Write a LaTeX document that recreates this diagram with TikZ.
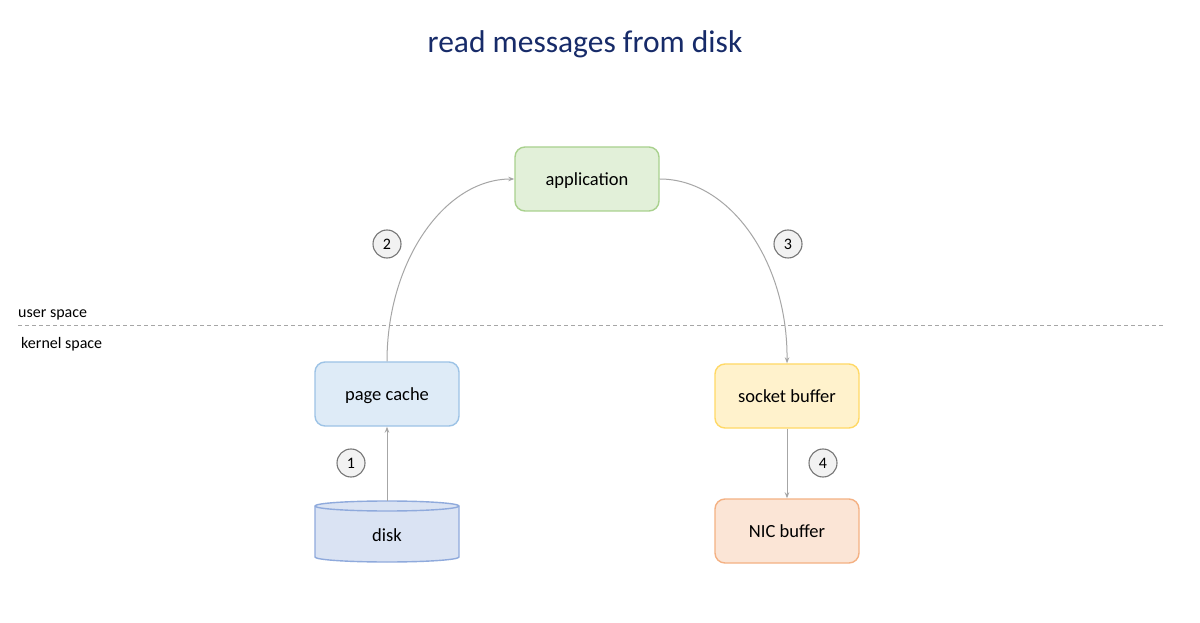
\documentclass[tikz,border=0pt]{standalone}
\usepackage{fontspec}
\setmainfont{Carlito}
\usetikzlibrary{arrows.meta}
\definecolor{titleblue}{HTML}{172B69}
\definecolor{appfill}{HTML}{E2F0D9}
\definecolor{appline}{HTML}{A9D18E}
\definecolor{pcfill}{HTML}{DEEBF7}
\definecolor{pcline}{HTML}{9DC3E6}
\definecolor{sbfill}{HTML}{FFF2CC}
\definecolor{sbline}{HTML}{FFD966}
\definecolor{nicfill}{HTML}{FBE5D6}
\definecolor{nicline}{HTML}{F4B183}
\definecolor{diskfill}{HTML}{DAE3F3}
\definecolor{diskline}{HTML}{8FAADC}
\definecolor{arrowgray}{HTML}{A6A6A6}
\definecolor{circfill}{HTML}{F2F2F2}
\definecolor{circline}{HTML}{767676}
\tikzset{
  box/.style={rectangle, rounded corners=10pt, line width=1.4pt, minimum width=144pt, minimum height=64pt, inner sep=0pt, text depth=0pt, font=\fontsize{18.5}{20}\selectfont},
  stepnum/.style={circle, draw=circline, fill=circfill, line width=1.1pt, minimum size=28pt, inner sep=0pt, font=\fontsize{16}{17}\selectfont},
  conn/.style={draw=arrowgray, line width=1pt, -{Stealth[length=6pt,width=4.5pt]}},
  sidelabel/.style={anchor=west, inner sep=0pt, font=\fontsize{16}{18}\selectfont}
}
\begin{document}
\begin{tikzpicture}[x=1pt,y=1pt]
\useasboundingbox (0,0) rectangle (1200,622);
\fill[white] (0,0) rectangle (1200,622);

\node (title) at (585,578) [font=\fontsize{31.5}{34}\selectfont, text=titleblue] {read messages from disk};

% divider
\coordinate (divL) at (18,296);
\coordinate (divR) at (1165,296);
\draw[arrowgray, line width=1pt, dash pattern=on 4pt off 3pt] (divL) -- (divR);
\node (user) [sidelabel] at (18,307) {user space};
\node (kernel) [sidelabel] at (21,278) {kernel space};

% boxes
\node (app) [box, draw=appline, fill=appfill] at (587,443) {application};
\node (page) [box, draw=pcline, fill=pcfill] at (387,228) {page cache};
\node (sock) [box, draw=sbline, fill=sbfill] at (787,226) {socket buffer};
\node (nic) [box, draw=nicline, fill=nicfill] at (787,91) {NIC buffer};

% disk cylinder
\filldraw[draw=diskline, fill=diskfill, line width=1.4pt]
  (315,116) -- (315,65) arc[start angle=180, end angle=360, x radius=72, y radius=5]
  -- (459,116) arc[start angle=0, end angle=180, x radius=72, y radius=5] -- cycle;
\draw[diskline, line width=1.4pt] (315,116) arc[start angle=180, end angle=360, x radius=72, y radius=5];
\node (disk) [rectangle, minimum width=144pt, minimum height=61pt, inner sep=0pt, text height=20pt, text depth=0pt, font=\fontsize{18.5}{20}\selectfont] at (387,90.5) {disk};

% connectors
\draw[conn] (disk.north) -- (page.south);
\draw[conn] (page.north) .. controls (387,360) and (444,443) .. (app.west);
\draw[conn] (app.east) .. controls (730,443) and (788,360) .. (sock.north);
\draw[conn] (sock.south) -- (nic.north);

% step numbers
\node (s1) [stepnum] at (351,159) {1};
\node (s2) [stepnum] at (387,378) {2};
\node (s3) [stepnum] at (788,378) {3};
\node (s4) [stepnum] at (823,159) {4};
\end{tikzpicture}
\end{document}
